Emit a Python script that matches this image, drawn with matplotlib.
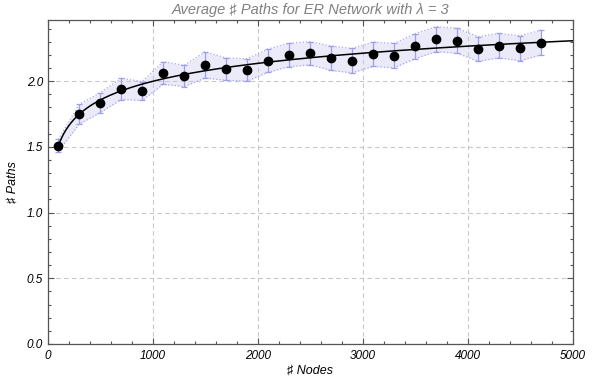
import numpy as np
import matplotlib.pyplot as plt
from matplotlib.ticker import MultipleLocator

# data
nodes = [100, 300, 500, 700, 900, 1100, 1300, 1500, 1700, 1900, 2100, 2300,
         2500, 2700, 2900, 3100, 3300, 3500, 3700, 3900, 4100, 4300, 4500, 4700]
paths = [1.51, 1.748, 1.836, 1.941, 1.925, 2.062, 2.040, 2.123, 2.091, 2.085, 2.156, 2.199,
         2.212, 2.174, 2.156, 2.205, 2.194, 2.266, 2.319, 2.307, 2.245, 2.270, 2.250, 2.293]
err = [0.046, 0.076, 0.076, 0.081, 0.072, 0.086, 0.081, 0.100, 0.085, 0.085, 0.089, 0.089,
       0.088, 0.093, 0.093, 0.093, 0.093, 0.095, 0.095, 0.095, 0.094, 0.093, 0.095, 0.094]

plt.rcParams['font.family'] = ['Liberation Sans', 'DejaVu Sans']
plt.rcParams['font.style'] = 'italic'

x = np.array(nodes)
y = np.array(paths)
e = np.array(err)

fig = plt.figure(figsize=(5.92, 3.81), dpi=100)
ax = fig.add_axes([47.7 / 592, 1 - 344 / 381, (572.5 - 47.7) / 592, (344 - 20) / 381])

# error band
ax.fill_between(x, y - e, y + e, color='#eaeaf9', lw=0)
ax.plot(x, y - e, ls=':', c='#a8a8ee', lw=0.9)
ax.plot(x, y + e, ls=':', c='#a8a8ee', lw=0.9)
ax.errorbar(x, y, yerr=e, fmt='none', ecolor='#9e9eea', elinewidth=0.9, capsize=2.5, capthick=0.9)

# fitted curve (quadratic in log n)
coef = np.polyfit(np.log(x), y, 2)
xf = np.linspace(100, 5000, 400)
ax.plot(xf, np.polyval(coef, np.log(xf)), c='k', lw=1.1)

ax.plot(x, y, 'o', c='k', ms=6, zorder=5)

ax.set_xlim(0, 5000)
ax.set_ylim(0, 2.465)
ax.xaxis.set_major_locator(MultipleLocator(1000))
ax.xaxis.set_minor_locator(MultipleLocator(200))
ax.yaxis.set_major_locator(MultipleLocator(0.5))
ax.yaxis.set_minor_locator(MultipleLocator(0.1))
ax.tick_params(which='both', direction='in', top=True, right=True, colors='#555555',
               labelcolor='black', labelsize=8.5, width=0.8)
ax.tick_params(which='major', length=4)
ax.tick_params(which='minor', length=2.5)
ax.tick_params(axis='x', pad=4)
ax.set_yticks([0.0, 0.5, 1.0, 1.5, 2.0])
ax.yaxis.set_major_formatter(plt.FuncFormatter(lambda v, p: f"{v:.1f}"))
for s in ax.spines.values():
    s.set_color('#555555')
    s.set_linewidth(0.9)

ax.grid(True, which='major', ls=(0, (4, 3)), c='#c8c8c8', lw=0.8)

ax.set_xlabel("\u266f Nodes", fontsize=9, labelpad=2)
ax.set_ylabel("\u266f Paths", fontsize=9, labelpad=6)
ax.set_title("Average \u266f Paths for ER Network with \u03bb = 3", fontsize=10.5, color='#808080', pad=4)

plt.savefig("out.png", dpi=100)
